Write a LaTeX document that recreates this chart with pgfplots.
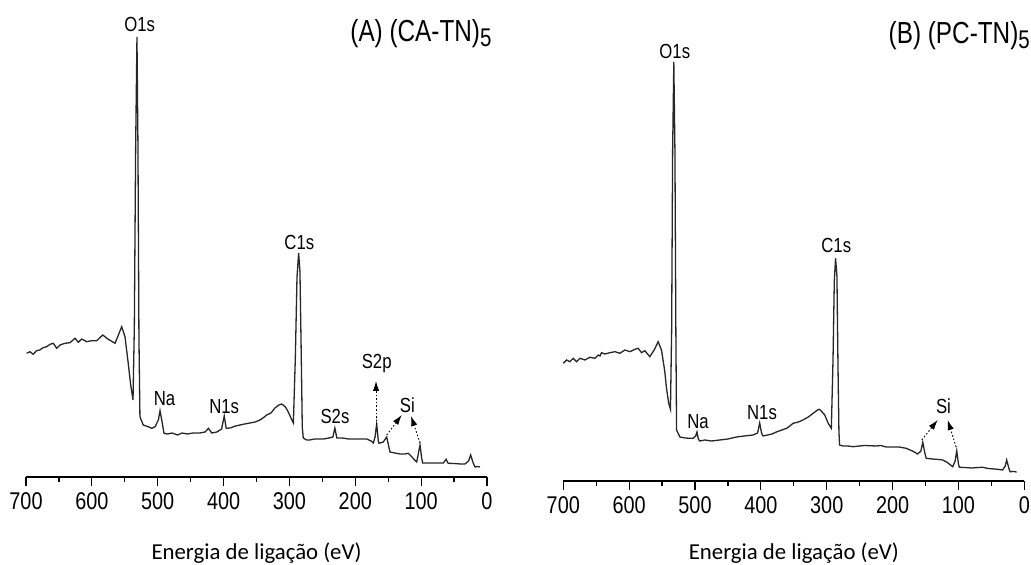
\documentclass[border=0pt]{standalone}
\usepackage{pgfplots}
\pgfplotsset{compat=1.18}
\usepackage{fontspec}
\usepackage{graphicx}
\usetikzlibrary{arrows.meta}
\newfontfamily\arial{Liberation Sans}
\newfontfamily\carlito{Carlito}
\newcommand{\lbl}[1]{\scalebox{0.82}[1]{\arial\fontsize{10.2}{12}\selectfont #1}}
\newcommand{\ttl}[1]{\scalebox{0.8}[1]{\arial\fontsize{15.2}{17}\selectfont #1\raisebox{-2.5pt}{\fontsize{12.8}{14}\selectfont 5}}}
\pgfplotsset{xps/.style={
  x=0.32929pt, y=0.5pt, xmin=0, xmax=700, ymin=0, ymax=470, x dir=reverse,
  axis x line=bottom, axis y line=none,
  x axis line style={-, line width=0.6pt},
  xtick={0,100,...,700}, minor x tick num=1, tick align=outside,
  major tick length=4.5pt, minor tick length=2.5pt,
  tick style={black, line width=0.6pt},
  ticklabel style={font=\arial\fontsize{12.1}{14}\selectfont},
  xticklabel={\scalebox{0.82}[1]{\pgfmathprintnumber{\tick}}},
  /pgf/number format/assume math mode=true,
  xlabel={Energia de ligação (eV)},
  xlabel style={font=\carlito\fontsize{11.4}{13}\selectfont, at={(axis description cs:0.5,0)}, anchor=center},
  clip=false,
}}
\tikzset{dotarrow/.style={line width=0.45pt, dash pattern=on 0.8pt off 1pt, -{Latex[length=5pt,width=3.2pt]}}}
\begin{document}
\begin{tikzpicture}
\useasboundingbox (0,0) rectangle (515.5pt,282.5pt);
% Panel A
\begin{axis}[xps, at={(13pt,44pt)}, xlabel style={yshift=-38pt}]
\addplot[line width=0.65pt, color=black!85] table {
699 123.7
694 125.3
689 122.7
684 126.3
679 127
674 129.3
668.5 130.3
663.5 132.7
658.5 133.7
653.4 128.7
648.4 132
640.8 133.7
633.2 134.3
625.6 138.7
620.6 134.7
615.4 138
607.8 135.3
600.2 136.3
592.6 136.3
583.5 142
575 137.7
564.8 133.7
554.7 150.3
549.7 140.3
545 115
541 92
537.5 77
535.5 150
533.5 330
531.5 440
530 330
528.5 140
527 60.3
522 52
514.5 50.3
509 48.7
504 50.3
499 57
496.5 66.3
493 53.7
490.5 43.7
485 43
478 44
470 42
463 44
455 43
446 44
436 44
428 45
423 48.7
418 44
410 45
403 48
399 61
396 48.7
390 49
382 51
375 52
368 53
360 54
352 55
344.7 57
338 60
334.5 62
328 64
322 69
316 72
311.7 73
306 70
301.7 65
297 58
294 54
291 120
288.5 200
286 224
284 205
282 120
280.5 50
279 39
274 37
269 37
262 38
255 38
248 38
240 39
234 40
231 49
228 39
220 39
210 38
200 38
190 38
182.7 38
176 36
172.6 34
170 40
167.5 53
165 36
164 33.7
157.5 35
152.3 40
149 30
147.3 25
140 24
132 23
125 23
119.5 23.7
114 20
110 17
106.7 15
101.7 32
99 18
97.6 14
90 14
80 14
70 14
66.3 14
62 17.7
59 13.7
50 13.5
40 13
33.4 13
28 16
24.8 22
21 14
18.2 10
14 10.5
10.6 10
};
\node at (axis cs:527.3,453) {\lbl{O1s}};
\node at (axis cs:285,235) {\lbl{C1s}};
\node at (axis cs:489.6,78.7) {\lbl{Na}};
\node at (axis cs:399,70.3) {\lbl{N1s}};
\node at (axis cs:230.8,60.3) {\lbl{S2s}};
\node at (axis cs:167.5,113.7) {\lbl{S2p}};
\node at (axis cs:121,72) {\lbl{Si}};
\draw[dotarrow] (axis cs:168.5,52) -- (axis cs:168.5,96);
\draw[dotarrow] (axis cs:152.3,42) -- (axis cs:129.5,62);
\draw[dotarrow] (axis cs:101.7,34) -- (axis cs:115.4,61);
\end{axis}
% Panel B
\begin{axis}[xps, at={(281.65pt,42pt)}, xlabel style={yshift=-36pt}]
\addplot[line width=0.65pt, color=black!85] table {
700 117.7
695 121
690 119.3
685 122.7
679.8 119.3
674.8 122.7
667.2 121
659.6 123.7
652 122.7
647 126
644.4 125
641.9 128.3
636.8 127
629.3 128.3
621.7 129.3
614.1 127.7
606.5 131
598.9 129.3
591.4 131.7
586.3 132.7
581.2 128.3
576.2 130.3
568.6 124.3
562 131
556 139.3
550.9 131
546 110
543.3 92.7
540 78
537.3 71.7
535.5 150
534 330
532.2 419
530.5 330
529 140
528 51
523 44
515 43
508 42.7
503 42.7
499 45
497 49
495 42
492.8 40
485 41
475 40
462.5 41
450 42
437 44
425 45
412 46
405 48
401.8 58
399 48
396.8 45
390 46
383 47
376.5 49
368 51
360 53
351 57.7
343 59
336 61
328 64
320 68
314 71
310.8 71.7
307 69
303 66
298 58
293 52.7
290.5 120
288.5 200
286.6 222.7
284.5 205
283 120
281.5 50
280.5 36
275 35
268 35
260 34.3
250 35
243 35.5
235 35.3
225 35
218 35.5
209.7 34
200 34
190 34
179.4 32.7
170 30
161.8 27
157 30
154.2 38.7
151 28
149 22.7
140 22
130 21.5
123.9 21
118 19
112 16
108.7 14.3
105 20
102.6 30.3
100 17
98.6 13.7
90 13.5
80 13
70 13.5
63.2 13.7
55 12.5
45 12
38 11.5
32.9 11
29 15
26.8 21
24 14
21.7 9.3
16 9.5
11.7 9
};
\node at (axis cs:530.7,429.3) {\lbl{O1s}};
\node at (axis cs:285.5,236) {\lbl{C1s}};
\node at (axis cs:495.4,59.3) {\lbl{Na}};
\node at (axis cs:398.3,68.7) {\lbl{N1s}};
\node at (axis cs:122.8,74.3) {\lbl{Si}};
\draw[dotarrow] (axis cs:155.7,41) -- (axis cs:131.5,61);
\draw[dotarrow] (axis cs:103.6,34) -- (axis cs:116.3,61);
\end{axis}
\node[anchor=base west, inner sep=0] at (175pt,261.65pt) {\ttl{(A) (CA-TN)}};
\node[anchor=base west, inner sep=0] at (444.15pt,260.85pt) {\ttl{(B) (PC-TN)}};
\end{tikzpicture}
\end{document}
